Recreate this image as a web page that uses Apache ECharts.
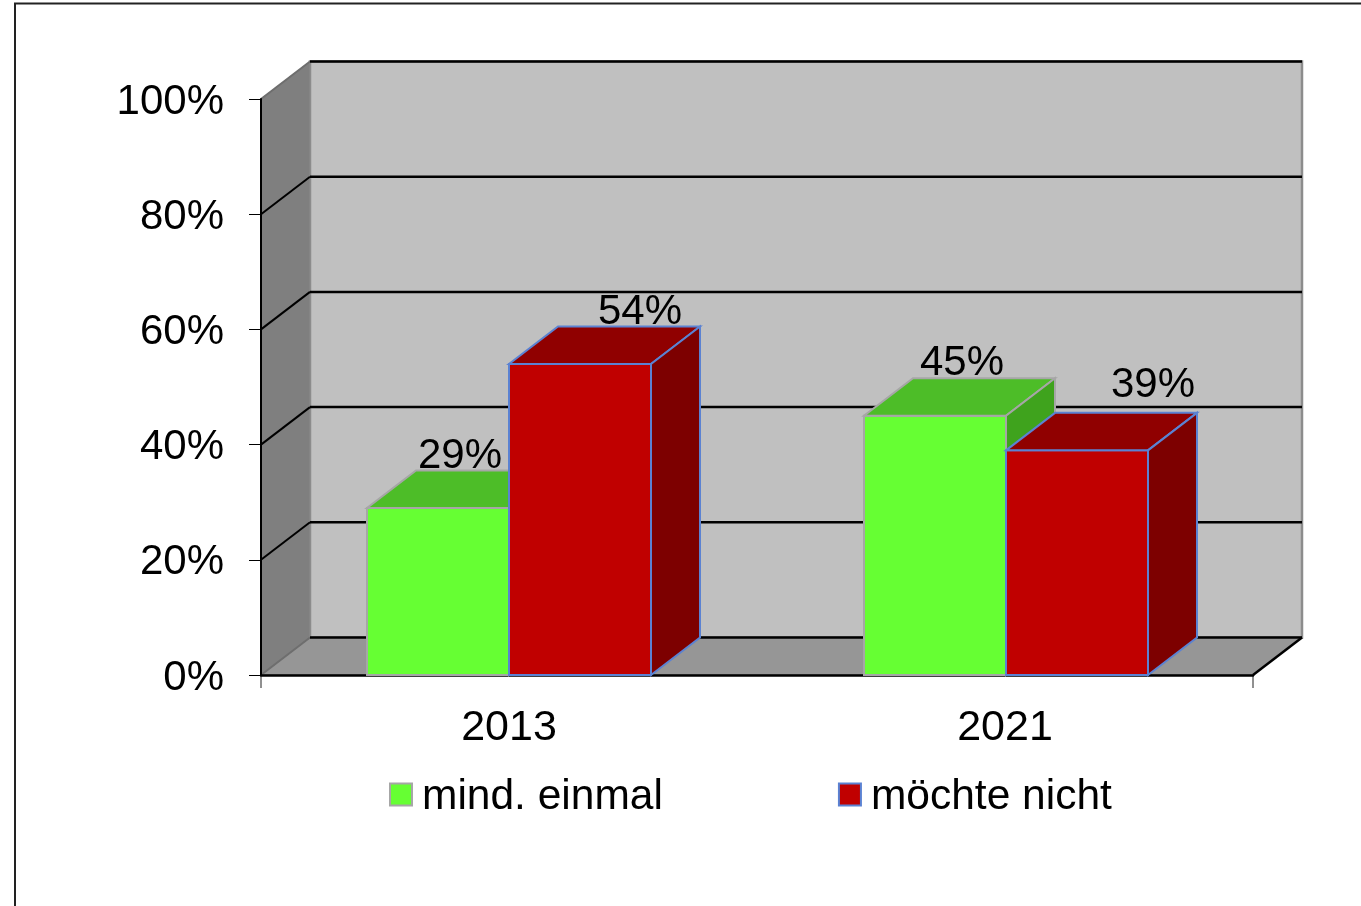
<!DOCTYPE html>
<html>
<head>
<meta charset="utf-8">
<style>html,body{margin:0;padding:0;background:#fff}#main{width:1361px;height:906px}</style>
<script src="https://cdn.jsdelivr.net/npm/echarts@6/dist/echarts.min.js"></script>
</head>
<body>
<div id="main"></div>
<script>
var years = ['2013', '2021'];
var mindEinmal = [29, 45];
var moechteNicht = [54, 39];
var yTicks = [0, 20, 40, 60, 80, 100];

// depth of the fake 3d box, in pixels
var DX = 49, DY = -37.5;
var BAR_RATIO = 142 / 496;
var FONT = '"Liberation Sans", Arial, sans-serif';

function poly(points, fill, stroke, w) {
    return {
        type: 'polygon',
        shape: { points: points },
        style: { fill: fill, stroke: stroke || null, lineWidth: w || 0 }
    };
}
function line(points, stroke, w) {
    return {
        type: 'polyline',
        shape: { points: points },
        style: { fill: null, stroke: stroke, lineWidth: w }
    };
}

function renderWalls(params) {
    var c = params.coordSys;
    var l = c.x, r = c.x + c.width, t = c.y, b = c.y + c.height;
    return {
        type: 'group',
        children: [
            poly([[l + DX, t + DY], [r + DX, t + DY], [r + DX, b + DY], [l + DX, b + DY]], '#c0c0c0', '#8c8c8c', 2.5),
            poly([[l, t], [l + DX, t + DY], [l + DX, b + DY], [l, b]], '#7f7f7f', '#8c8c8c', 1),
            poly([[l, b], [l + DX, b + DY], [r + DX, b + DY], [r, b]], '#969696', '#6e6e6e', 1),
            line([[r, b], [r + DX, b + DY]], '#000', 2.5),
            // only the two outer ticks of the category axis are drawn
            line([[l, b], [l, b + 13]], '#222', 1),
            line([[r, b], [r, b + 13]], '#222', 1)
        ]
    };
}

function renderGrid(params, api) {
    var c = params.coordSys;
    var y = api.coord([0, api.value(0)])[1];
    var l = c.x, r = c.x + c.width;
    var edge = api.value(0) === 0 || api.value(0) === 100;
    return {
        type: 'group',
        children: [
            line([[l, y], [l + DX, y + DY]], edge ? '#6e6e6e' : '#000', 2),
            line([[l + DX, y + DY], [r + DX, y + DY]], '#000', 2.5)
        ]
    };
}

function barRenderer(offset, colors, nudges) {
    return function (params, api) {
        var i = api.value(0);
        var p = api.coord([i, api.value(1)]);
        var base = api.coord([i, 0]);
        var w = api.size([1, 0])[0] * BAR_RATIO;
        var x0 = p[0] + offset * w + i, x1 = x0 + w;
        var top = p[1], bot = base[1];
        var n = nudges[i];
        return {
            type: 'group',
            children: [
                poly([[x0, bot], [x1, bot], [x1, top], [x0, top]], colors.front, colors.edge, 2),
                poly([[x0, top], [x1, top], [x1 + DX, top + DY], [x0 + DX, top + DY]], colors.top, colors.edge, 2),
                poly([[x1, bot], [x1 + DX, bot + DY], [x1 + DX, top + DY], [x1, top]], colors.side, colors.edge, 2),
                {
                    type: 'text',
                    z2: 50,
                    style: {
                        x: x0 + n[0],
                        y: top + n[1],
                        text: api.value(1) + '%',
                        fill: '#000',
                        font: '42px ' + FONT,
                        align: 'center',
                        verticalAlign: 'middle'
                    }
                }
            ]
        };
    };
}

var myChart = echarts.init(document.getElementById('main'), null, { renderer: 'canvas' });
myChart.setOption({
    animation: false,
    backgroundColor: '#fff',
    textStyle: { fontFamily: FONT },
    grid: { left: 261, top: 99, width: 992, height: 576, containLabel: false },
    graphic: [{
        type: 'polyline',
        shape: { points: [[15, 906], [15, 3.5], [1361, 3.5]] },
        style: { fill: null, stroke: '#222', lineWidth: 2 }
    }],
    xAxis: {
        type: 'category',
        data: years,
        z: 3,
        axisLine: { lineStyle: { color: '#000', width: 2.5 } },
        axisTick: { show: false },
        axisLabel: { color: '#000', fontSize: 43, margin: 32, fontFamily: FONT }
    },
    yAxis: {
        type: 'value',
        min: 0,
        max: 100,
        interval: 20,
        z: 3,
        splitLine: { show: false },
        axisLine: { show: true, lineStyle: { color: '#000', width: 2 } },
        axisTick: { show: true, length: 12, lineStyle: { color: '#000', width: 1 } },
        axisLabel: {
            margin: 37,
            formatter: '{v|{value}%}',
            rich: { v: { color: '#000', fontSize: 42, fontFamily: FONT, padding: [6, 0, 0, 0] } }
        }
    },
    legend: {
        left: 384,
        top: 771,
        itemWidth: 22,
        itemHeight: 22,
        itemGap: 175,
        selectedMode: false,
        formatter: '{t|{name}}',
        textStyle: {
            padding: [0, 0, 0, 5],
            rich: { t: { color: '#000', fontSize: 42.5, fontFamily: FONT, padding: [6, 0, 0, 0] } }
        },
        data: [
            { name: 'mind. einmal', icon: 'rect', itemStyle: { color: '#66ff33', borderColor: '#a6a6a6', borderWidth: 2 } },
            { name: 'möchte nicht', icon: 'rect', itemStyle: { color: '#c00000', borderColor: '#5b82d2', borderWidth: 2 } }
        ]
    },
    series: [
        { type: 'custom', silent: true, z: 1, renderItem: renderWalls, data: [0] },
        { type: 'custom', silent: true, z: 2, renderItem: renderGrid, encode: { y: 0 }, data: yTicks.map(function (v) { return [v]; }) },
        {
            type: 'custom',
            name: 'mind. einmal',
            silent: true,
            z: 4,
            itemStyle: { color: '#66ff33' },
            renderItem: barRenderer(-1, { front: '#66ff33', top: '#4dbd28', side: '#3fa31d', edge: '#a6a6a6' }, [[93, -52], [98, -52]]),
            encode: { x: 0, y: 1 },
            data: mindEinmal.map(function (v, i) { return [i, v]; })
        },
        {
            type: 'custom',
            name: 'möchte nicht',
            silent: true,
            z: 5,
            itemStyle: { color: '#c00000' },
            renderItem: barRenderer(0, { front: '#c00000', top: '#900000', side: '#7d0000', edge: '#5b82d2' }, [[131, -52], [147, -65]]),
            encode: { x: 0, y: 1 },
            data: moechteNicht.map(function (v, i) { return [i, v]; })
        }
    ]
});
</script>
</body>
</html>
